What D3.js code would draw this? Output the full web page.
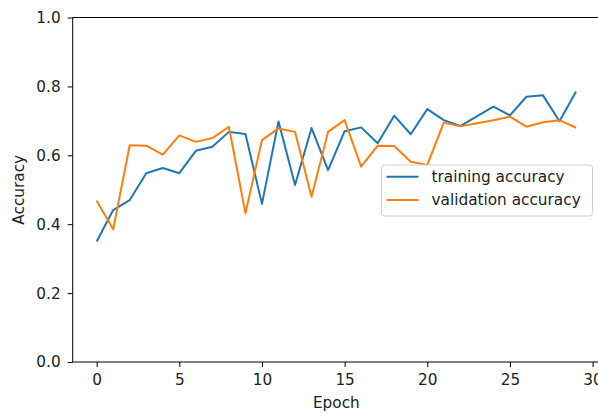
<!DOCTYPE html>
<html>
<head>
<meta charset="utf-8">
<script src="https://cdn.jsdelivr.net/npm/d3@7"></script>
<style>
  body { margin: 0; background: #fff; }
  svg text { font-family: "DejaVu Sans", sans-serif; }
</style>
</head>
<body>
<div id="chart"></div>
<script>
// ─── Data ─────────────────────────────────────────────────────────────────────
const epochs = d3.range(30);
const trainAcc = [0.350, 0.441, 0.470, 0.548, 0.563, 0.548, 0.613, 0.625, 0.668, 0.662,
                  0.459, 0.698, 0.514, 0.679, 0.557, 0.670, 0.681, 0.635, 0.715, 0.661,
                  0.734, 0.702, 0.685, 0.713, 0.741, 0.716, 0.770, 0.774, 0.699, 0.785];
const valAcc   = [0.468, 0.385, 0.629, 0.628, 0.602, 0.658, 0.639, 0.650, 0.683, 0.432,
                  0.644, 0.678, 0.668, 0.480, 0.668, 0.702, 0.567, 0.628, 0.627, 0.581,
                  0.572, 0.695, 0.684, 0.693, 0.702, 0.712, 0.683, 0.696, 0.702, 0.680];
const xTicks = [0, 5, 10, 15, 20, 25, 30];
const yTicks = [0, 0.2, 0.4, 0.6, 0.8, 1.0];
const series = [
  { name: "training accuracy", values: trainAcc, color: "#1f77b4" },
  { name: "validation accuracy", values: valAcc, color: "#ff7f0e" },
];

// ─── Layout ───────────────────────────────────────────────────────────────────
const W = 598, H = 414;
const plot = { left: 72.7, right: 600, top: 17.5, bottom: 362 };
const fontSize = 15.3;

const svg = d3.select("#chart").append("svg")
  .attr("width", W).attr("height", H);

const x = d3.scaleLinear().domain([-1.45, 30.45]).range([plot.left, plot.right]);
const y = d3.scaleLinear().domain([0, 1]).range([plot.bottom, plot.top]);

// axes
const xAxis = svg.append("g").attr("transform", `translate(0,${plot.bottom})`)
  .call(d3.axisBottom(x).tickValues(xTicks).tickFormat(d3.format("d")).tickSize(5).tickPadding(7));
const yAxis = svg.append("g").attr("transform", `translate(${plot.left},0)`)
  .call(d3.axisLeft(y).tickValues(yTicks).tickFormat(d3.format(".1f")).tickSize(5).tickPadding(7));

[xAxis, yAxis].forEach((a) => {
  a.select(".domain").remove();
  a.selectAll(".tick line").attr("stroke", "#000").attr("stroke-width", 1);
  a.selectAll(".tick text").attr("fill", "#222").style("font-size", fontSize + "px")
    .style("font-family", "DejaVu Sans");
});

// spines
svg.append("rect")
  .attr("x", plot.left).attr("y", plot.top)
  .attr("width", plot.right - plot.left).attr("height", plot.bottom - plot.top)
  .attr("fill", "none").attr("stroke", "#000").attr("stroke-width", 1);

// lines
const line = d3.line().x((d, i) => x(epochs[i])).y((d) => y(d));
series.forEach((s) => {
  svg.append("path").datum(s.values)
    .attr("fill", "none").attr("stroke", s.color)
    .attr("stroke-width", 2).attr("stroke-linejoin", "round")
    .attr("d", line);
});

// axis labels
svg.append("text").attr("x", (plot.left + plot.right) / 2).attr("y", 408)
  .attr("text-anchor", "middle").attr("fill", "#222")
  .style("font-size", fontSize + "px").text("Epoch");
svg.append("text")
  .attr("transform", `translate(24,${(plot.top + plot.bottom) / 2}) rotate(-90)`)
  .attr("text-anchor", "middle").attr("fill", "#222")
  .style("font-size", fontSize + "px").text("Accuracy");

// legend
const lg = svg.append("g").attr("transform", "translate(381.5,165)");
lg.append("rect").attr("width", 211).attr("height", 51).attr("rx", 3)
  .attr("fill", "#fff").attr("fill-opacity", 0.8)
  .attr("stroke", "#d0d0d0").attr("stroke-width", 1);
series.forEach((s, i) => {
  const cy = 11.7 + i * 23.3;
  lg.append("line").attr("x1", 5).attr("x2", 37).attr("y1", cy).attr("y2", cy)
    .attr("stroke", s.color).attr("stroke-width", 2);
  lg.append("text").attr("x", 50).attr("y", cy).attr("dy", "0.35em")
    .attr("fill", "#222").style("font-size", fontSize + "px").text(s.name);
});
</script>
</body>
</html>
